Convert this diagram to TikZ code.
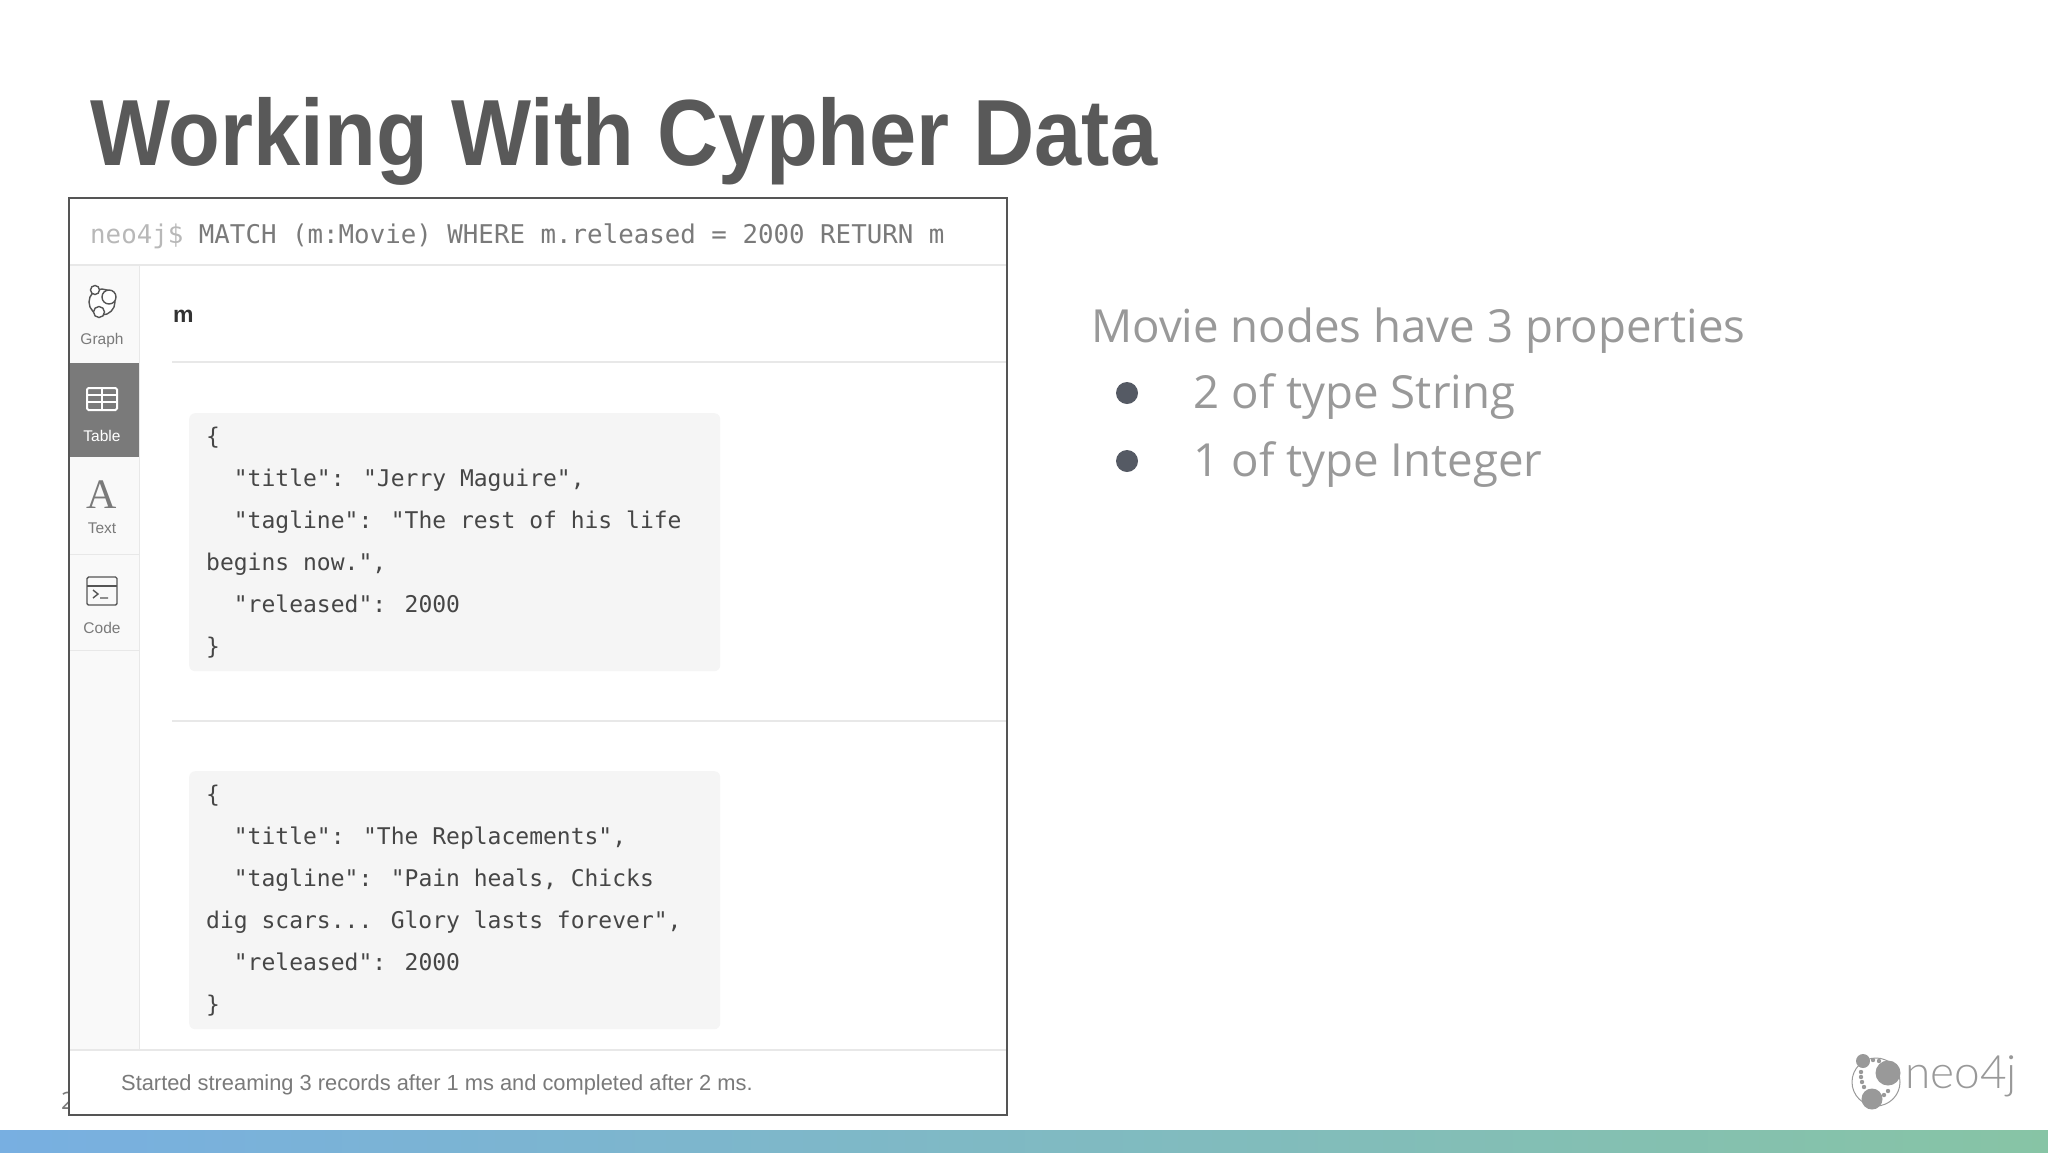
\documentclass[tikz,border=0pt]{standalone}
\usepackage{fontspec}
\setmainfont{Open Sans}
\newfontfamily\headfont[FakeStretch=0.902]{Liberation Sans}
\newfontfamily\codefont{DejaVu Sans Mono}
\newfontfamily\uifont{Liberation Sans}
\newfontfamily\iconfont{Liberation Serif}
\newfontfamily\logofont{Lato Light}
\usetikzlibrary{positioning}
\definecolor{col1}{RGB}{89,89,89}
\definecolor{col2}{RGB}{153,153,153}
\definecolor{col3}{RGB}{245,245,245}
\definecolor{col4}{RGB}{249,249,249}
\definecolor{col5}{RGB}{122,122,122}
\definecolor{col6}{RGB}{232,232,232}
\definecolor{col7}{RGB}{85,85,85}
\definecolor{col8}{RGB}{85,90,100}
\definecolor{col9}{RGB}{70,70,70}
\definecolor{barleft}{RGB}{120,175,225}
\definecolor{barright}{RGB}{135,196,165}
\tikzstyle{bodytext}=[anchor=base west, inner sep=0pt, text=col2, font=\fontsize{45.6}{45.6}\selectfont]
\tikzstyle{dotitem}=[circle, fill=col8, minimum size=22pt, inner sep=0pt]
\tikzstyle{tab}=[anchor=north west, fill=col4, minimum width=69pt, inner sep=0pt]
\tikzstyle{tablabel}=[anchor=base, inner sep=0pt, text=col5, font=\uifont\fontsize{15.5}{15.5}\selectfont]
\tikzstyle{rule}=[draw=col6, line width=1.5pt]
\tikzstyle{jsonbox}=[anchor=north west, fill=col3, rounded corners=6pt, minimum width=531pt, minimum height=258pt, inner xsep=17pt, inner ysep=0pt, text width=497pt, align=flush left, text=col9, font=\codefont\fontsize{23}{42}\selectfont]
\tikzstyle{icon}=[draw=col7, line width=1.4pt]
\tikzstyle{logodot}=[circle, fill=col2, inner sep=0pt]
\newcommand{\ind}{\hspace*{27.7pt}}
\begin{document}
\begin{tikzpicture}[x=1pt,y=-1pt]
    \useasboundingbox (0,0) rectangle (2048,1152);
    \node [anchor=base west, inner sep=0pt, text=col1, font=\headfont\bfseries\fontsize{94}{94}\selectfont] (title) at (90,165) {Working With Cypher Data};
    % slide number, mostly hidden by the screenshot
    \node [anchor=base, inner sep=0pt, text=col5, font=\fontsize{24}{24}\selectfont] (page) at (68,1109) {2};
    \node [anchor=north west, fill=white, minimum width=937.5pt, minimum height=916.5pt, inner sep=0pt] (panel) at (69,198) {};
    % sidebar
    \node [tab, minimum height=98pt] (graphtab) at (70,265) {};
    \node [tab, minimum height=94pt, fill=col5] (tabletab) at (70,363) {};
    \node [tab, minimum height=97pt] (texttab) at (70,457) {};
    \node [tab, minimum height=96pt] (codetab) at (70,554) {};
    \node [tab, minimum height=400pt] (resttab) at (70,650) {};
    \draw [rule] (graphtab.north east) -- (resttab.south east);
    \draw [rule] (texttab.south west) -- (texttab.south east);
    \draw [rule] (codetab.south west) -- (codetab.south east);
    \node [tablabel] (graphlabel) at (102,344) {Graph};
    \node [tablabel, text=white] (tablelabel) at (102,441) {Table};
    \node [tablabel] (textlabel) at (102,533) {Text};
    \node [tablabel] (codelabel) at (102,633) {Code};
    % icons
    \draw [icon, fill=white] (102,302) circle (13pt);
    \draw [icon, fill=white] (109,297) circle (7pt);
    \draw [icon, fill=white] (95,290) circle (4.5pt);
    \draw [icon, fill=white] (99,312) circle (5.5pt);
    \draw [draw=white, line width=2pt, rounded corners=1.5pt] (87,388) rectangle (117,410);
    \draw [draw=white, line width=1.5pt] (87,395) -- (117,395) (87,402) -- (117,402) (102,388) -- (102,410);
    \node [anchor=base, inner sep=0pt, text=col5, font=\iconfont\fontsize{42}{42}\selectfont] (aicon) at (102,508) {A};
    \draw [icon, rounded corners=1.5pt] (87,577) rectangle (117,605);
    \draw [icon] (87,586) -- (117,586);
    \draw [icon] (93,590) -- (98,594) -- (93,598) (100,598) -- (108,598);
    % header and rows
    \node [anchor=base west, inner sep=0pt, font=\codefont\fontsize{25.8}{25.8}\selectfont, text=col5] (query) at (90,243) {\textcolor{col2!70}{neo4j\$} MATCH (m:Movie) WHERE m.released = 2000 RETURN m};
    \draw [rule] (70,265) -- (1006,265);
    \node [anchor=base west, inner sep=0pt, font=\uifont\bfseries\fontsize{23}{23}\selectfont, text=black!80] (mhead) at (173,322) {m};
    \coordinate (rowa) at (172,362);
    \coordinate (rowb) at (172,721);
    \draw [rule] (rowa) -- (1006,362);
    \draw [rule] (rowb) -- (1006,721);
    \node [jsonbox] (jerry) at (189,413) {\{\\
\ind"title": "Jerry Maguire",\\
\ind"tagline": "The rest of his life\\
begins now.",\\
\ind"released": 2000\\
\}};
    \node [jsonbox] (replace) at (189,771) {\{\\
\ind"title": "The Replacements",\\
\ind"tagline": "Pain heals, Chicks\\
dig scars... Glory lasts forever",\\
\ind"released": 2000\\
\}};
    \draw [rule] (70,1050) -- (1006,1050);
    \node [anchor=base west, inner sep=0pt, text=col5, font=\uifont\fontsize{21.85}{21.85}\selectfont] (status) at (121,1090) {Started streaming 3 records after 1 ms and completed after 2 ms.};
    \draw [draw=col7, line width=2.5pt] (panel.north west) rectangle (panel.south east);
    % right column
    \node [bodytext] (props) at (1091,342.5) {Movie nodes have 3 properties};
    \node [bodytext] (strings) at (1193.5,408) {2 of type String};
    \node [bodytext] (ints) at (1193.5,476) {1 of type Integer};
    \node [dotitem] (dota) at (1127,393) {};
    \node [dotitem] (dotb) at (1127,461) {};
    % logo
    \draw [draw=col2, line width=1pt] (1876,1082) circle (24pt);
    \node [logodot, minimum size=25pt] (logoa) at (1888,1073) {};
    \node [logodot, minimum size=21pt] (logob) at (1872,1099) {};
    \node [logodot, minimum size=14pt] (logoc) at (1863,1061) {};
    \foreach \px/\py in {1873/1060,1879/1061,1861/1072,1861/1077,1862/1082,1864/1087,1888/1091,1884/1095} {
        \fill [col2] (\px,\py) circle (2.2pt);
    }
    \node [anchor=base west, inner sep=0pt, text=col2, font=\logofont\fontsize{46}{46}\selectfont] (logotext) at (1905,1088) {neo4j};
    % bottom bar
    \node [anchor=north west, left color=barleft, right color=barright, minimum width=2048pt, minimum height=22pt, inner sep=0pt] (bar) at (0,1130) {};
\end{tikzpicture}
\end{document}
